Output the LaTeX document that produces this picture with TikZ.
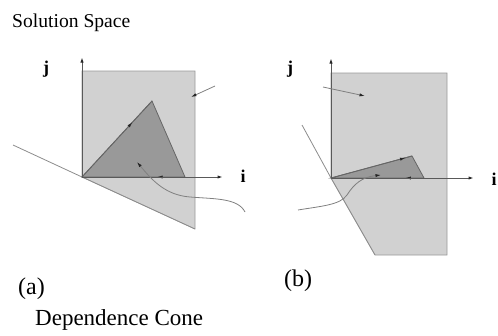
\documentclass[tikz,border=0pt]{standalone}
\usepackage{fontspec}
\setmainfont{Liberation Serif}
\usetikzlibrary{arrows.meta,decorations.markings}

\begin{document}
\begin{tikzpicture}[x=1pt,y=-1pt,>={Latex[length=5.5pt,width=3.2pt,black!85]},
 axis/.style={draw=black!65,line width=1pt,->},
 region/.style={fill=black!18,draw=black!40,line width=0.6pt},
 cone/.style={fill=black!40,draw=black!60,line width=0.8pt},
 edge/.style={draw=black!45,line width=0.8pt},
 flow/.style={draw=black!50,line width=0.8pt,->},
 midarrow/.style={draw=black!60,line width=0.8pt,postaction={decorate},decoration={markings,mark=at position #1 with {\arrow{>}}}},
 caption/.style={anchor=base west,inner sep=0pt,font=\fontsize{23}{26}\selectfont},
 axlabel/.style={inner sep=0pt,font=\fontsize{18}{20}\selectfont\bfseries}]
\useasboundingbox (0,0) rectangle (498,335);
\node[caption,font=\fontsize{19.6}{22}\selectfont] (title) at (12,27) {Solution Space};
% (a) triangle cone inside the space
\coordinate (oa) at (82,177);
\coordinate (ta) at (152,101);
\coordinate (ra) at (185,177);
\path[region] (oa) -- (82,71) -- (195,71) -- (195,229) -- cycle;
\draw[edge] (13,145) -- (oa) -- (195,229);
\path[cone] (oa) -- (ta) -- (ra) -- cycle;
\draw[midarrow=0.72] (oa) -- (ta);
\draw[midarrow=0.27] (ra) -- (oa);
\node[axlabel] (ja) at (46,69) {j};
\node[axlabel] (ia) at (243,176) {i};
\coordinate (ya) at (82,57);
\coordinate (xa) at (223,177);
\draw[axis] (oa) -- (ya);
\draw[axis] (oa) -- (xa);
\coordinate (pa) at (215,86);
\draw[flow] (pa) -- (191,97);
\coordinate (ca) at (245,212);
\draw[flow] (ca) .. controls (238,198) and (215,199) .. (190,197) .. controls (165,195) and (152,180) .. (137,162);
\node[caption,font=\fontsize{24}{26}\selectfont] (lbla) at (18,294) {(a)};
% (b) flat cone, cut space
\coordinate (ob) at (331,178);
\coordinate (tb) at (412,156);
\coordinate (rb) at (424,178);
\path[region] (ob) -- (331,73) -- (447,73) -- (447,255) -- (375,255) -- cycle;
\draw[edge] (302,125) -- (ob) -- (375,255);
\path[cone] (ob) -- (tb) -- (rb) -- cycle;
\draw[midarrow=0.92] (ob) -- (tb);
\draw[midarrow=0.2] (rb) -- (ob);
\node[axlabel] (jb) at (290,69) {j};
\node[axlabel] (ib) at (494,179) {i};
\coordinate (yb) at (331,58);
\coordinate (xb) at (474,178);
\draw[axis] (ob) -- (yb);
\draw[axis] (ob) -- (xb);
\coordinate (pb) at (323,87);
\draw[flow] (pb) -- (365,96);
\coordinate (cb) at (298,210);
\draw[flow] (cb) .. controls (322,206) and (340,205) .. (347,195) .. controls (354,184) and (362,177) .. (381,175);
\node[caption,font=\fontsize{24}{26}\selectfont] (lblb) at (284,286) {(b)};
\node[caption] (bottom) at (35,325) {Dependence Cone};
\end{tikzpicture}
\end{document}
